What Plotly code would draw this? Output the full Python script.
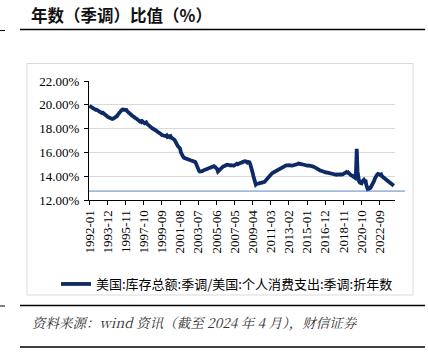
import plotly.graph_objects as go

# ---------------- data ----------------
start_year, start_month = 1992, 1
ratio = [
    # 1992
    19.92, 19.85, 19.82, 19.75, 19.74, 19.70, 19.64, 19.63, 19.58, 19.59, 19.54, 19.50,
    # 1993
    19.45, 19.44, 19.36, 19.37, 19.30, 19.33, 19.26, 19.20, 19.16, 19.10, 19.06, 19.00,
    # 1994
    18.95, 18.93, 18.88, 18.86, 18.82, 18.80, 18.82, 18.85, 18.92, 18.95, 19.02, 19.05,
    # 1995
    19.15, 19.25, 19.35, 19.42, 19.50, 19.57, 19.60, 19.58, 19.63, 19.60, 19.58, 19.56,
    # 1996
    19.45, 19.37, 19.30, 19.26, 19.20, 19.16, 19.10, 19.07, 19.00, 18.96, 18.90, 18.86,
    # 1997
    18.80, 18.76, 18.70, 18.66, 18.60, 18.62, 18.55, 18.62, 18.50, 18.50, 18.45, 18.47,
    # 1998
    18.52, 18.40, 18.36, 18.30, 18.26, 18.15, 18.12, 18.05, 18.02, 18.00, 17.95, 17.92,
    # 1999
    17.85, 17.82, 17.75, 17.72, 17.65, 17.62, 17.55, 17.52, 17.45, 17.44, 17.47, 17.40,
    # 2000
    17.38, 17.36, 17.42, 17.30, 17.34, 17.36, 17.30, 17.35, 17.25, 17.22, 17.15, 17.12,
    # 2001
    17.05, 16.92, 16.75, 16.66, 16.55, 16.47, 16.35, 16.32, 16.00, 15.82, 15.70, 15.62,
    # 2002
    15.55, 15.52, 15.45, 15.42, 15.38, 15.36, 15.33, 15.37, 15.32, 15.32, 15.30, 15.28,
    # 2003
    15.27, 15.25, 15.20, 15.10, 14.90, 14.70, 14.55, 14.45, 14.40, 14.38, 14.42, 14.42,
    # 2004
    14.47, 14.50, 14.54, 14.55, 14.61, 14.56, 14.63, 14.68, 14.71, 14.75, 14.79, 14.80,
    # 2005
    14.83, 14.85, 14.84, 14.80, 14.76, 14.70, 14.60, 14.40, 14.46, 14.55, 14.66, 14.72,
    # 2006
    14.79, 14.80, 14.84, 14.85, 14.91, 14.92, 14.96, 14.97, 14.94, 14.98, 14.92, 14.90,
    # 2007
    14.93, 14.95, 14.90, 14.88, 14.93, 14.95, 15.01, 15.05, 15.00, 15.06, 15.08, 15.11,
    # 2008
    15.12, 15.16, 15.20, 15.26, 15.22, 15.26, 15.25, 15.20, 15.15, 15.21, 15.17, 15.17,
    # 2009
    15.00, 14.83, 14.60, 14.30, 14.00, 13.70, 13.30, 13.30, 13.36, 13.34, 13.38, 13.40,
    # 2010
    13.41, 13.38, 13.43, 13.45, 13.46, 13.50, 13.52, 13.60, 13.71, 13.80, 13.91, 14.00,
    # 2011
    14.06, 14.10, 14.15, 14.20, 14.26, 14.30, 14.36, 14.40, 14.46, 14.50, 14.53, 14.55,
    # 2012
    14.61, 14.62, 14.66, 14.70, 14.76, 14.80, 14.83, 14.85, 14.89, 14.90, 14.91, 14.88,
    # 2013
    14.91, 14.92, 14.90, 14.88, 14.85, 14.89, 14.90, 14.91, 14.92, 14.96, 14.98, 15.01,
    # 2014
    15.02, 15.06, 15.06, 15.05, 15.03, 15.01, 15.00, 14.98, 14.95, 14.96, 14.92, 14.90,
    # 2015
    14.91, 14.88, 14.90, 14.87, 14.86, 14.85, 14.82, 14.81, 14.80, 14.78, 14.73, 14.68,
    # 2016
    14.66, 14.60, 14.59, 14.55, 14.51, 14.47, 14.46, 14.42, 14.41, 14.38, 14.36, 14.30,
    # 2017
    14.31, 14.32, 14.30, 14.28, 14.29, 14.28, 14.25, 14.23, 14.20, 14.19, 14.15, 14.16,
    # 2018
    14.14, 14.12, 14.15, 14.12, 14.10, 14.14, 14.16, 14.12, 14.14, 14.15, 14.18, 14.25,
    # 2019
    14.30, 14.34, 14.35, 14.30, 14.33, 14.25, 14.16, 14.10, 14.07, 14.05, 14.01, 13.95,
    # 2020
    13.90, 13.86, 14.30, 16.30, 14.40, 13.72, 13.55, 13.45, 13.40, 13.40, 13.55, 13.65,
    # 2021
    13.70, 13.60, 13.70, 13.30, 12.90, 12.90, 12.92, 12.95, 13.00, 13.10, 13.20, 13.30,
    # 2022
    13.45, 13.60, 13.80, 13.95, 14.10, 14.15, 14.20, 14.20, 14.15, 14.10, 14.14, 14.00,
    # 2023
    13.95, 13.90, 13.85, 13.80, 13.75, 13.72, 13.65, 13.60, 13.55, 13.50, 13.50, 13.45,
    # 2024
    13.35, 13.28, 13.20,
]
ref_level = 12.75
tick_step = 23
series_name = "美国:库存总额:季调/美国:个人消费支出:季调:折年数"
title_text = "年数（季调）比值（%）"
source_text = "资料来源：wind 资讯（截至 2024 年 4 月），财信证券"

months = []
y, m = start_year, start_month
for _ in ratio:
    months.append(f"{y}-{m:02d}")
    m += 1
    if m > 12:
        m = 1
        y += 1
tick_vals = months[::tick_step]

# ---------------- layout helpers ----------------
W, H = 428, 354
L, R, T, B = 89, 395, 81, 200


def px(x):
    return (x - L) / (R - L)


def py(yy):
    return (B - yy) / (B - T)


NAVY = "#0d2a66"
SERIF = "Liberation Serif, Times New Roman, serif"
CJK = "Noto Sans CJK SC, sans-serif"

fig = go.Figure()
fig.add_trace(go.Scatter(
    x=months, y=ratio, mode="lines", name=series_name,
    line=dict(color=NAVY, width=3.8), showlegend=True,
))

shapes = [
    # reference level line
    dict(type="line", xref="paper", yref="y", x0=0, x1=px(405), y0=ref_level, y1=ref_level,
         line=dict(color="#5b86c5", width=1)),
    # chart box border
    dict(type="rect", xref="paper", yref="paper", x0=px(27), x1=px(413), y0=py(63.5), y1=py(295),
         line=dict(color="#d9d9d9", width=1), layer="below"),
    # rules
    dict(type="line", xref="paper", yref="paper", x0=px(20), x1=px(425), y0=py(29.5), y1=py(29.5),
         line=dict(color="#000000", width=1.5)),
    dict(type="line", xref="paper", yref="paper", x0=px(20), x1=px(425), y0=py(305.5), y1=py(305.5),
         line=dict(color="#000000", width=1.5)),
    dict(type="line", xref="paper", yref="paper", x0=px(20), x1=px(425), y0=py(347), y1=py(347),
         line=dict(color="#000000", width=1.5)),
    dict(type="line", xref="paper", yref="paper", x0=px(0), x1=px(5), y0=py(30.5), y1=py(30.5),
         line=dict(color="#000000", width=1)),
    dict(type="line", xref="paper", yref="paper", x0=px(0), x1=px(5), y0=py(306), y1=py(306),
         line=dict(color="#000000", width=1)),
]

annotations = [
    dict(text=f"<b>{title_text}</b>", xref="paper", yref="paper", x=px(29), y=py(14.5),
         xanchor="left", yanchor="middle", showarrow=False,
         font=dict(family=CJK, size=16.5, color="#111111")),
    dict(text=f"<i>{source_text}</i>", xref="paper", yref="paper", x=px(30), y=py(321.5),
         xanchor="left", yanchor="middle", showarrow=False,
         font=dict(family="Noto Serif CJK SC, " + CJK, size=13.5, color="#333333")),
]

fig.update_layout(
    width=W, height=H,
    margin=dict(l=L, r=W - R, t=T, b=H - B, pad=0),
    paper_bgcolor="white", plot_bgcolor="white",
    shapes=shapes, annotations=annotations,
    showlegend=True,
    legend=dict(orientation="h", x=px(56), y=py(284), xanchor="left", yanchor="middle",
                font=dict(family=CJK, size=13, color="#000000"),
                bgcolor="rgba(0,0,0,0)", borderwidth=0, itemwidth=30),
    xaxis=dict(
        type="category", categoryorder="array", categoryarray=months,
        range=[-0.5, len(months) + 0.5],
        tickmode="array", tickvals=tick_vals, ticktext=tick_vals,
        tickangle=-90, ticks="outside", ticklen=4, tickcolor="#000000", tickwidth=1,
        showline=True, linecolor="#000000", linewidth=1,
        showgrid=False, zeroline=False,
        tickfont=dict(family=SERIF, size=13, color="#000000"),
    ),
    yaxis=dict(
        range=[12, 22], dtick=2, tick0=12,
        tickformat=".2f", ticksuffix="%",
        ticks="outside", ticklen=4, tickcolor="#000000", tickwidth=1,
        showline=True, linecolor="#000000", linewidth=1,
        showgrid=True, gridcolor="#d9d9d9", gridwidth=1, zeroline=False,
        tickfont=dict(family=SERIF, size=13, color="#000000"),
        ticklabelstandoff=2,
    ),
)

fig.write_html("out.html")
